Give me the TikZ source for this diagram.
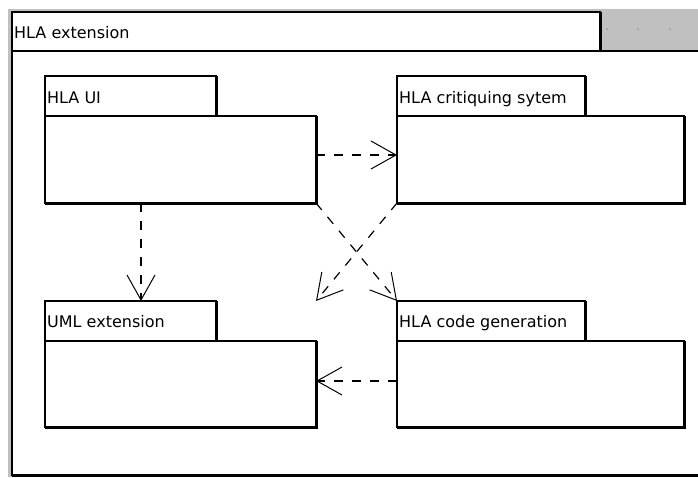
\documentclass[tikz,border=0pt]{standalone}
\usepackage{fontspec}
\setmainfont{DejaVu Sans}
\usetikzlibrary{arrows.meta,calc}
\definecolor{selgray}{HTML}{C0C0C0}
\definecolor{dotgray}{HTML}{A6A6A6}
\begin{document}
\begin{tikzpicture}[x=1pt,y=1pt,yscale=-1,
  pkgbox/.style={draw=black, line width=1.1pt, fill=white, inner sep=0pt, outer sep=0pt, rectangle},
  heavyedge/.style={line width=3pt, line join=miter},
  lbl/.style={inner sep=0pt, font=\fontsize{16}{18}\selectfont, anchor=base west},
  dep/.style={line width=1.2pt, dash pattern=on 9pt off 9pt,
    -{Straight Barb[length=25pt,width=28pt,line width=1pt]}},
]
\useasboundingbox (0,0) rectangle (698,477);
\clip (0,0) rectangle (698,477);

% selection band around the enclosing package
\fill[selgray] (8,9) rectangle (698,477);

% enclosing package "HLA extension"
\node[pkgbox, anchor=north west, minimum width=720pt, minimum height=424pt] (ext) at (12,51) {};
\node[pkgbox, anchor=south west, minimum width=588pt, minimum height=39pt] (exttab) at (ext.north west) {};
\draw[heavyedge] ($(exttab.north east)+(0.8,0)$) -- ($(exttab.south east)+(0.8,0)$);
\draw[heavyedge] ($(ext.south west)+(0,0.8)$) -- ($(ext.south east)+(0,0.8)$);
\node[lbl] (extlbl) at ($(exttab.north west)+(2,26)$) {HLA extension};
\foreach \dx in {607,638,670} \fill[dotgray] (\dx-1,28) rectangle (\dx+1,30);

% inner packages: body + tab
\node[pkgbox, anchor=north west, minimum width=271pt, minimum height=87pt] (ui) at (45,116) {};
\node[pkgbox, anchor=south west, minimum width=171pt, minimum height=40pt] (uitab) at (ui.north west) {};

\node[pkgbox, anchor=north west, minimum width=287pt, minimum height=87pt] (crit) at (397,116) {};
\node[pkgbox, anchor=south west, minimum width=188pt, minimum height=40pt] (crittab) at (crit.north west) {};

\node[pkgbox, anchor=north west, minimum width=271pt, minimum height=86pt] (uml) at (45,341) {};
\node[pkgbox, anchor=south west, minimum width=171pt, minimum height=40pt] (umltab) at (uml.north west) {};

\node[pkgbox, anchor=north west, minimum width=287pt, minimum height=86pt] (gen) at (397,341) {};
\node[pkgbox, anchor=south west, minimum width=188pt, minimum height=40pt] (gentab) at (gen.north west) {};

% heavy right/bottom edges
\foreach \p in {ui,crit,uml,gen} {
  \draw[heavyedge] ($(\p tab.north east)+(0.8,0)$) -- ($(\p tab.south east)+(0.8,0)$);
  \draw[heavyedge] ($(\p.north east)+(0.8,0)$) -- ($(\p.south east)+(0.8,0.8)$) -- ($(\p.south west)+(0,0.8)$);
}

% package names
\node[lbl] (uilbl)   at ($(uitab.north west)+(2,27)$)   {HLA UI};
\node[lbl] (critlbl) at ($(crittab.north west)+(2,27)$) {HLA critiquing sytem};
\node[lbl] (umllbl)  at ($(umltab.north west)+(2,26.5)$)  {UML extension};
\node[lbl] (genlbl)  at ($(gentab.north west)+(2,26.5)$)  {HLA code generation};

% dependencies
\draw[dep] ($(ui.east)+(0,-4.5)$) -- ($(crit.west)+(0,-4.5)$);
\draw[dep] ($(ui.south west)+(96,0)$) -- ($(umltab.north west)+(96,0)$);
\draw[dep] (ui.south east) -- (gentab.north west);
\draw[dep] (crit.south west) -- (uml.east |- umltab.north);
\draw[dep] ($(gen.west)+(0,-3)$) -- ($(uml.east)+(0,-3)$);
\end{tikzpicture}
\end{document}
